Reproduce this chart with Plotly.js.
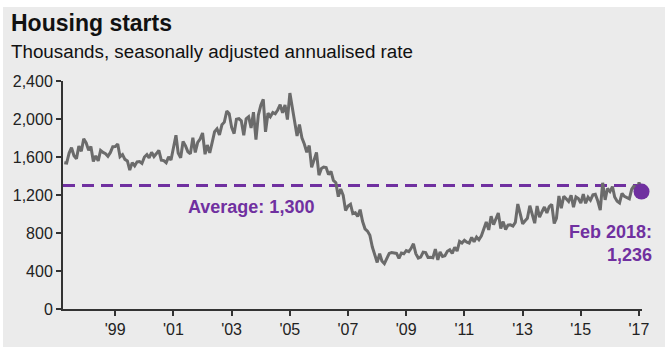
<!DOCTYPE html>
<html>
<head>
<meta charset="utf-8">
<script src="https://cdn.plot.ly/plotly-3.0.1.min.js"></script>
<style>
  html, body { margin: 0; padding: 0; background: #ffffff; }
  #chart { position: absolute; left: 3px; top: 7px; width: 662px; height: 340px; }
</style>
</head>
<body>
<div id="chart"></div>
<script>
// ---- Data (thousands, SAAR), monthly from Apr 1998 to Feb 2018 ----
const startYear = 1998;
const startMonth = 4; // April
const starts = [
  1540, 1536, 1641, 1698, 1614, 1582, 1715, 1660, 1792,
  1748, 1670, 1710, 1553, 1611, 1559, 1669, 1648, 1635, 1608, 1648, 1708,
  1710, 1737, 1604, 1626, 1575, 1559, 1463, 1541, 1507, 1549, 1551, 1532,
  1600, 1625, 1590, 1649, 1605, 1636, 1670, 1567, 1562, 1540, 1602, 1568,
  1698, 1829, 1642, 1592, 1764, 1717, 1655, 1633, 1804, 1648, 1753, 1788,
  1853, 1629, 1726, 1643, 1751, 1867, 1897, 1833, 1939, 1967, 2083, 2057,
  1911, 1846, 1998, 2003, 1981, 1828, 2002, 2024, 1905, 2072, 1782, 2042,
  2144, 2207, 1864, 2061, 2025, 2068, 2054, 2095, 2151, 2065, 2147, 1994,
  2273, 2119, 1969, 1821, 1942, 1802, 1737, 1650, 1720, 1491, 1570, 1649,
  1409, 1480, 1495, 1490, 1415, 1448, 1354, 1330, 1183, 1264, 1197, 1037,
  1084, 1103, 1005, 1013, 973, 1046, 923, 844, 820, 777, 652, 560,
  490, 582, 505, 478, 540, 585, 594, 586, 585, 534, 588, 581,
  614, 604, 636, 687, 583, 536, 546, 599, 594, 543, 545, 539,
  630, 517, 600, 554, 561, 608, 623, 585, 650, 610, 711, 694,
  723, 704, 695, 753, 708, 757, 728, 770, 847, 915, 833, 976,
  888, 962, 1010, 847, 920, 837, 883, 886, 873, 911, 1105, 1003,
  897, 928, 954, 1087, 998, 903, 1084, 966, 1024, 1074, 1012, 1078,
  1101, 900, 954, 1190, 1061, 1187, 1160, 1131, 1197, 1071, 1179, 1163,
  1114, 1208, 1113, 1177, 1146, 1201, 1207, 1137, 1040, 1328, 1149, 1268,
  1236, 1289, 1179, 1135, 1117, 1218, 1185, 1174, 1159, 1261, 1299, 1209,
  1334, 1236
];
const average = 1300;
const tickYears = [1999, 2001, 2003, 2005, 2007, 2009, 2011, 2013, 2015, 2017];
const tickLabels = ["'99", "'01", "'03", "'05", "'07", "'09", "'11", "'13", "'15", "'17"];
const yTicks = [0, 400, 800, 1200, 1600, 2000, 2400];
const monthNames = ['Jan','Feb','Mar','Apr','May','Jun','Jul','Aug','Sep','Oct','Nov','Dec'];

// ---- Build x dates ----
const pad = n => (n < 10 ? '0' : '') + n;
const dates = starts.map((_, i) => {
  const m = (startMonth - 1) + i;
  return (startYear + Math.floor(m / 12)) + '-' + pad(m % 12 + 1) + '-01';
});
const lastIdx = starts.length - 1;
const lastDate = dates[lastIdx];
const lastVal = starts[lastIdx];
const lastM = (startMonth - 1) + lastIdx;
const lastLabel = monthNames[lastM % 12] + ' ' + (startYear + Math.floor(lastM / 12));

const purple = '#7030a0';
const font = 'Liberation Sans, Arial, Helvetica, sans-serif';

const traces = [
  {
    x: dates, y: starts, type: 'scatter', mode: 'lines',
    line: { color: '#6b6b6b', width: 3 },
    hoverinfo: 'skip'
  },
  {
    x: [lastDate], y: [lastVal], type: 'scatter', mode: 'markers',
    marker: { color: purple, size: 16 },
    cliponaxis: false, hoverinfo: 'skip'
  }
];

const layout = {
  width: 662, height: 340,
  paper_bgcolor: '#ebebeb', plot_bgcolor: '#ebebeb',
  margin: { l: 60, r: 23, t: 74, b: 38 },
  showlegend: false,
  font: { family: font, color: '#222222', size: 16 },
  title: {
    text: '<b>Housing starts</b>',
    font: { family: font, size: 23, color: '#111111' },
    xref: 'container', yref: 'container',
    x: 8 / 662, xanchor: 'left',
    y: 1 - 16 / 340, yanchor: 'middle'
  },
  xaxis: {
    type: 'date',
    range: ['1998-03-16', '2018-02-07'],
    tickmode: 'array',
    tickvals: tickYears.map(y => y + '-12-31'),
    ticktext: tickLabels,
    showgrid: false, zeroline: false,
    showline: true, linecolor: '#333333', linewidth: 2,
    ticks: 'outside', ticklen: 5, tickwidth: 2, tickcolor: '#333333',
    tickfont: { family: font, size: 16, color: '#222222' }
  },
  yaxis: {
    range: [0, 2400],
    tickmode: 'array',
    tickvals: yTicks,
    ticktext: yTicks.map(v => v.toLocaleString('en-US')),
    showgrid: false, zeroline: false,
    showline: true, linecolor: '#333333', linewidth: 2,
    ticks: 'outside', ticklen: 5, tickwidth: 2, tickcolor: '#333333',
    tickfont: { family: font, size: 16, color: '#222222' }
  },
  shapes: [
    {
      type: 'line', xref: 'paper', yref: 'y',
      x0: 0, x1: 1, y0: average, y1: average,
      line: { color: purple, width: 3, dash: '12px,7px' },
      layer: 'below'
    }
  ],
  annotations: [
    {
      text: 'Thousands, seasonally adjusted annualised rate',
      xref: 'paper', yref: 'paper',
      x: -54 / 579, y: (302 - 45) / 228,
      xanchor: 'left', yanchor: 'middle', showarrow: false,
      font: { family: font, size: 18.8, color: '#111111' }
    },
    {
      text: '<b>Average: ' + average.toLocaleString('en-US') + '</b>',
      xref: 'x', yref: 'y',
      x: '2004-09-01', y: average, yshift: -21,
      xanchor: 'center', yanchor: 'middle', showarrow: false,
      font: { family: font, size: 18, color: purple }
    },
    {
      text: '<b>' + lastLabel + ':<br>' + lastVal.toLocaleString('en-US') + '</b>',
      xref: 'x', yref: 'y',
      x: lastDate, y: lastVal, xshift: 12, yshift: -52,
      xanchor: 'right', yanchor: 'middle', align: 'right', showarrow: false,
      font: { family: font, size: 18, color: purple }
    }
  ]
};

Plotly.newPlot('chart', traces, layout, { displayModeBar: false, staticPlot: true });
</script>
</body>
</html>
